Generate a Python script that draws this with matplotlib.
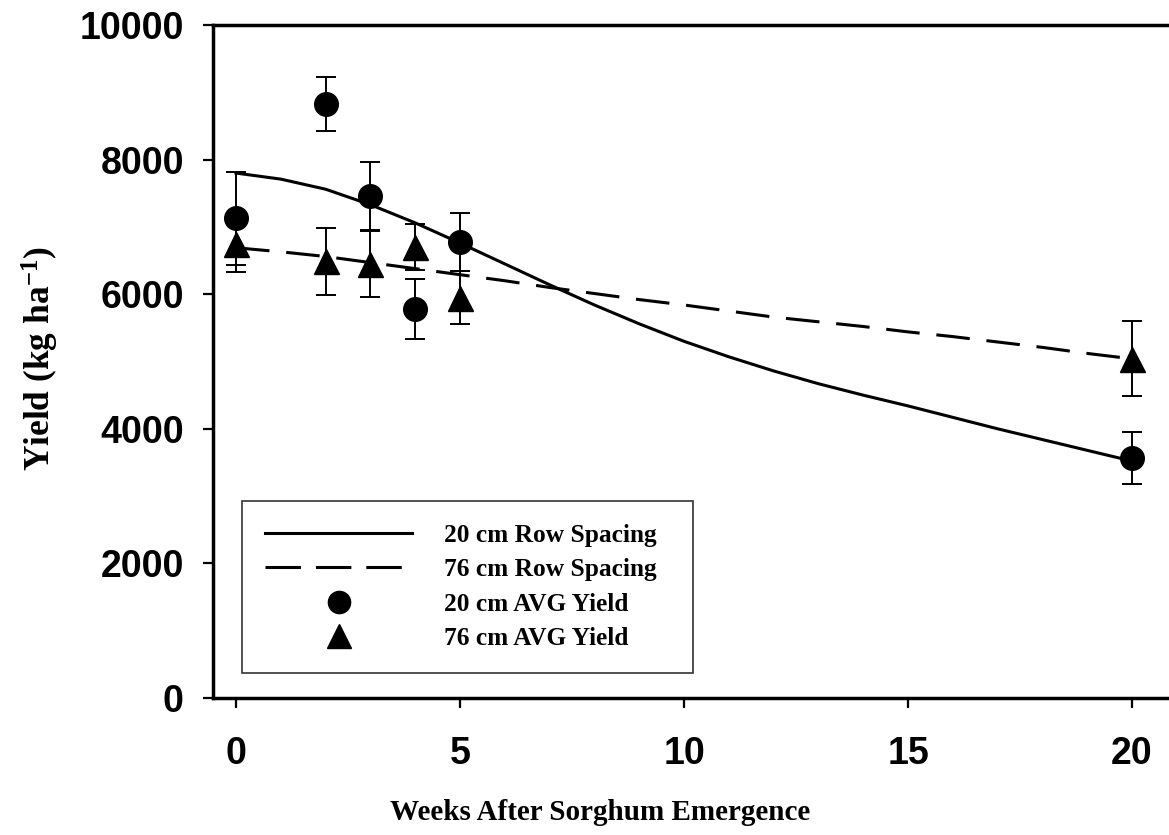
import matplotlib
matplotlib.use("Agg")
import matplotlib.pyplot as plt
from matplotlib.lines import Line2D

# ---- data ----
weeks = [0, 2, 3, 4, 5, 20]
yield_20 = [7130, 8825, 7460, 5780, 6770, 3565]
err_20 = [690, 400, 505, 450, 430, 390]
yield_76 = [6740, 6490, 6450, 6700, 5950, 5040]
err_76 = [410, 500, 490, 345, 400, 560]

fit_x = [0, 1, 2, 3, 4, 5, 6, 7, 8, 9, 10, 11, 12, 13, 14, 15, 16, 17, 18, 19, 20]
fit_20 = [7800, 7710, 7560, 7330, 7060, 6760, 6450, 6140, 5840, 5560, 5300,
          5070, 4860, 4670, 4500, 4340, 4170, 4000, 3840, 3680, 3520]
fit_76 = [6690, 6630, 6560, 6470, 6380, 6290, 6200, 6100, 6010, 5920, 5840,
          5750, 5660, 5590, 5520, 5440, 5370, 5290, 5210, 5120, 5040]

xticks = [0, 5, 10, 15, 20]
yticks = [0, 2000, 4000, 6000, 8000, 10000]
labels = ["20 cm Row Spacing", "76 cm Row Spacing", "20 cm AVG Yield", "76 cm AVG Yield"]

plt.rcParams['mathtext.fontset'] = 'custom'
plt.rcParams['mathtext.rm'] = 'Liberation Serif:bold'
plt.rcParams['mathtext.it'] = 'Liberation Serif:bold'
plt.rcParams['mathtext.bf'] = 'Liberation Serif:bold'

W, H = 1169, 835
fig = plt.figure(figsize=(W / 100, H / 100), dpi=100)

left_px, right_px, top_px, bot_px = 213, 1181, 25, 698
x0_px, ppu = 236, 44.8
ax = fig.add_axes([left_px / W, 1 - bot_px / H, (right_px - left_px) / W, (bot_px - top_px) / H])
ax.set_xlim((left_px - x0_px) / ppu, (right_px - x0_px) / ppu)
ax.set_ylim(0, 10000)

lw = 2.2
dash = (0, (11, 5.5))
ax.plot(fit_x, fit_20, color='black', lw=lw, solid_joinstyle='round', zorder=2)
ax.plot(fit_x, fit_76, color='black', lw=lw, ls=dash, zorder=2)

ax.errorbar(weeks, yield_76, yerr=err_76, fmt='none', ecolor='black', elinewidth=1.4,
            capsize=7, capthick=1.4, zorder=3)
ax.errorbar(weeks, yield_20, yerr=err_20, fmt='none', ecolor='black', elinewidth=1.4,
            capsize=7, capthick=1.4, zorder=3)
ax.plot(weeks, yield_76, ls='none', marker='^', ms=18, color='black', zorder=4)
ax.plot(weeks, yield_20, ls='none', marker='o', ms=17, color='black', zorder=4)

ax.set_xticks(xticks)
ax.set_yticks(yticks)
for sp in ax.spines.values():
    sp.set_linewidth(2.5)
ax.tick_params(axis='both', direction='out', length=7, width=1.6, labelsize=27)
ax.tick_params(axis='x', pad=20)
ax.tick_params(axis='y', pad=14)
for lab in ax.get_xticklabels() + ax.get_yticklabels():
    lab.set_fontfamily('Liberation Sans')
    lab.set_fontweight('bold')

fig.text(600 / W, 1 - 812 / H, "Weeks After Sorghum Emergence", ha='center', va='center',
         fontsize=21, fontweight='bold', family='Liberation Serif')
fig.text(40 / W, 1 - 359 / H, "Yield (kg ha$^{-1}$)", ha='center', va='center', rotation=90,
         fontsize=25.5, fontweight='bold', family='Liberation Serif')

handles = [
    Line2D([], [], color='black', lw=lw),
    Line2D([], [], color='black', lw=lw, ls=(0, (11.6, 4.9))),
    Line2D([], [], color='black', ls='none', marker='o', ms=16),
    Line2D([], [], color='black', ls='none', marker='^', ms=17),
]
axw = right_px - left_px
axh = bot_px - top_px
leg = ax.legend(handles, labels, loc='lower left',
                bbox_to_anchor=((242 - left_px) / axw, (bot_px - 673) / axh,
                                (693 - 242) / axw, 0.2),
                mode='expand', frameon=True, fancybox=False, edgecolor='black',
                borderaxespad=0, handlelength=5.8, handletextpad=1.25,
                borderpad=0.9, labelspacing=0.45, numpoints=1,
                prop={'family': 'Liberation Serif', 'weight': 'bold', 'size': 18.3})
leg.get_frame().set_linewidth(1.2)

fig.savefig("out.png", dpi=100)
